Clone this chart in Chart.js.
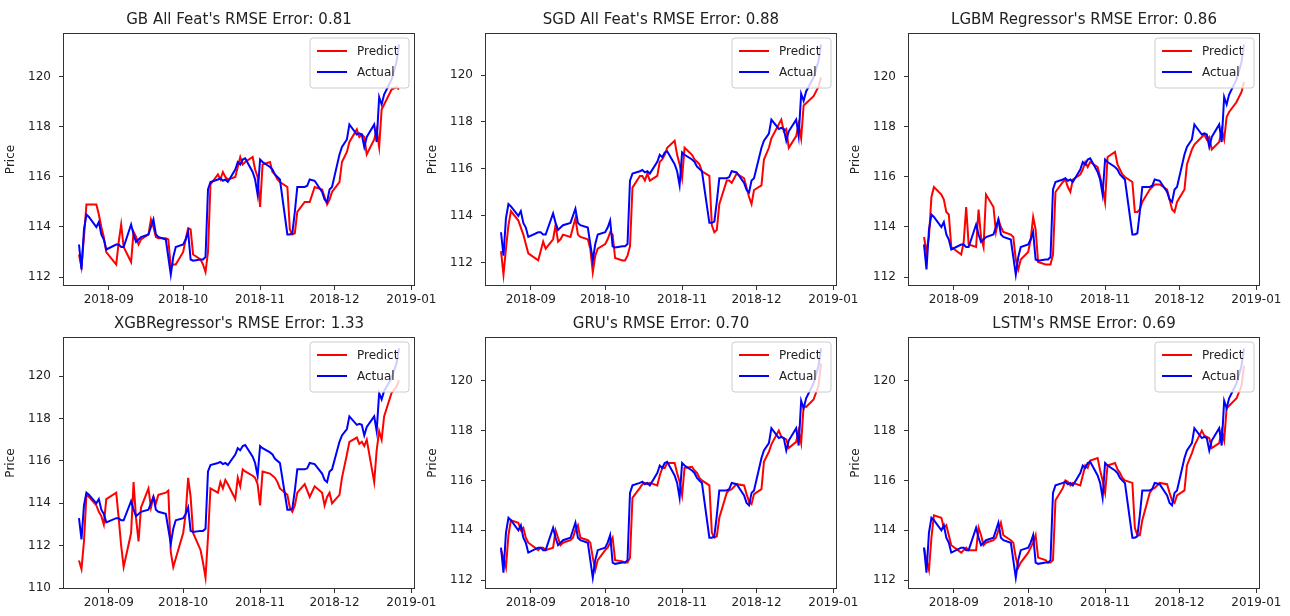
<!DOCTYPE html>
<html>
<head>
<meta charset="utf-8">
<script src="https://cdn.jsdelivr.net/npm/chart.js@4.4.1/dist/chart.umd.min.js"></script>
<style>
  html, body { margin: 0; padding: 0; background: #fff; width: 1290px; height: 616px; overflow: hidden; }
  canvas { position: absolute; }
</style>
</head>
<body>
<script>
// Trading days of the test window
const tradingDays = [
  '2018-08-20','2018-08-21','2018-08-22','2018-08-23','2018-08-24','2018-08-27','2018-08-28','2018-08-29','2018-08-30','2018-08-31',
  '2018-09-04','2018-09-05','2018-09-06','2018-09-07','2018-09-10','2018-09-11','2018-09-12','2018-09-13','2018-09-14','2018-09-17',
  '2018-09-18','2018-09-19','2018-09-20','2018-09-21','2018-09-24','2018-09-25','2018-09-26','2018-09-27','2018-09-28','2018-10-01',
  '2018-10-02','2018-10-03','2018-10-04','2018-10-05','2018-10-08','2018-10-09','2018-10-10','2018-10-11','2018-10-12','2018-10-15',
  '2018-10-16','2018-10-17','2018-10-18','2018-10-19','2018-10-22','2018-10-23','2018-10-24','2018-10-25','2018-10-26','2018-10-29',
  '2018-10-30','2018-10-31','2018-11-01','2018-11-02','2018-11-05','2018-11-06','2018-11-07','2018-11-08','2018-11-09','2018-11-12',
  '2018-11-13','2018-11-14','2018-11-15','2018-11-16','2018-11-19','2018-11-20','2018-11-21','2018-11-23','2018-11-26','2018-11-27',
  '2018-11-28','2018-11-29','2018-11-30','2018-12-03','2018-12-04','2018-12-06','2018-12-07','2018-12-10','2018-12-11','2018-12-12',
  '2018-12-13','2018-12-14','2018-12-17','2018-12-18','2018-12-19','2018-12-20','2018-12-21','2018-12-24','2018-12-26','2018-12-27'
];

// Observed closing price
const actualPrice = [
  113.3,112.3,113.9,114.5,114.4,114.0,114.2,113.7,113.5,113.1,
  113.3,113.3,113.2,113.2,114.1,113.7,113.4,113.5,113.6,113.7,
  114.0,114.3,113.7,113.6,113.5,112.8,112.1,112.8,113.2,113.3,
  113.5,113.8,112.7,112.65,112.7,112.7,112.8,115.5,115.8,115.9,
  115.95,115.85,115.9,115.8,116.3,116.6,116.5,116.7,116.75,116.2,
  115.9,115.3,116.7,116.6,116.4,116.3,116.1,116.0,115.9,113.7,
  113.7,113.75,114.6,115.6,115.6,115.65,115.9,115.85,115.4,115.1,
  115.0,115.5,115.6,116.9,117.2,117.5,118.1,117.7,117.75,117.7,
  117.2,117.6,118.1,117.4,119.2,118.9,119.3,119.9,120.6,121.3
];

// Model predictions
const predGB = [
  112.9,112.4,113.6,114.9,114.9,114.9,114.5,114.0,113.6,113.0,
  112.5,113.4,114.1,113.2,112.6,113.8,113.6,113.3,113.5,113.7,
  114.3,114.0,113.6,113.55,113.55,113.5,112.4,112.5,112.5,113.0,
  113.5,113.95,113.9,112.9,112.7,112.5,112.2,113.0,115.7,116.1,
  115.9,116.2,116.0,115.9,116.0,116.4,116.8,116.5,116.6,116.8,
  116.3,116.0,114.8,116.5,116.6,116.2,116.1,115.9,115.8,115.6,
  113.9,113.7,113.75,114.6,115.0,115.0,115.0,115.6,115.5,115.2,
  114.9,115.1,115.4,115.8,116.6,117.0,117.4,117.9,117.6,117.7,
  117.6,116.9,117.5,117.9,117.2,118.7,118.9,119.5,119.6,119.5
];
const predSGD = [
  112.5,111.5,112.6,113.6,114.2,113.8,113.5,113.2,112.8,112.4,
  112.1,112.5,112.9,112.6,113.0,113.6,112.9,113.0,113.2,113.1,
  113.5,113.9,113.2,113.1,113.0,112.6,111.6,112.3,112.6,112.8,
  113.0,113.3,113.2,112.2,112.1,112.1,112.3,112.7,115.2,115.7,
  115.7,115.5,115.8,115.5,115.7,116.3,116.4,116.6,116.9,117.2,
  116.6,116.2,115.6,116.9,116.6,116.4,116.3,116.2,115.9,115.7,
  113.6,113.3,113.4,114.5,115.5,115.5,115.4,115.8,115.6,115.2,
  114.8,114.5,115.1,115.3,116.4,116.9,117.3,117.9,118.1,117.6,
  117.7,116.9,117.4,117.9,117.3,118.7,118.8,119.1,119.5,119.9
];
const predLGBM = [
  113.6,113.0,113.6,115.2,115.6,115.3,115.1,114.6,114.5,113.2,
  112.9,113.4,114.8,113.3,113.2,114.7,113.6,113.2,115.3,114.8,
  113.8,114.3,114.0,113.8,113.7,113.6,112.7,112.3,112.7,113.0,
  113.5,114.4,113.9,112.6,112.5,112.5,112.5,112.9,115.4,115.8,
  115.9,115.6,115.4,115.9,116.1,116.3,116.6,116.4,116.6,116.4,
  116.0,115.6,115.0,116.8,117.0,116.5,116.3,116.1,116.0,115.8,
  114.6,114.6,114.7,115.0,115.5,115.6,115.7,115.7,115.5,115.1,
  114.7,114.6,115.0,115.5,116.5,117.1,117.3,117.6,117.7,117.5,
  117.6,117.1,117.4,117.9,117.5,118.4,118.6,119.0,119.4,119.8
];
const predXGB = [
  111.3,110.9,112.2,114.4,114.3,113.9,113.6,113.4,113.0,114.2,
  114.5,113.3,112.0,111.0,112.6,115.0,113.3,112.2,113.8,114.7,
  113.8,114.3,114.0,114.4,114.5,114.6,111.7,111.0,111.4,112.6,
  113.5,115.2,114.3,112.6,111.8,111.2,110.5,112.4,114.7,114.5,
  115.0,114.7,115.1,114.9,114.2,115.2,114.8,115.6,115.5,115.3,
  115.2,114.9,113.9,115.5,115.4,115.3,115.2,115.0,114.7,114.4,
  113.8,113.6,113.9,114.5,114.9,114.6,114.3,114.8,114.5,113.9,
  114.3,114.5,114.0,114.4,115.2,116.3,116.9,117.1,116.8,116.9,
  116.7,117.0,115.0,116.5,117.4,117.0,118.1,119.2,119.5,119.8
];
const predGRU = [
  113.2,112.9,112.5,113.8,114.4,114.3,114.0,114.1,113.7,113.5,
  113.2,113.3,113.3,113.2,113.3,114.0,113.7,113.4,113.5,113.6,
  113.7,114.0,114.2,113.7,113.6,113.5,112.9,112.4,112.8,113.2,
  113.3,113.5,113.7,112.8,112.75,112.7,112.7,112.9,115.3,115.7,
  115.85,115.9,115.85,115.9,115.8,116.2,116.5,116.5,116.7,116.7,
  116.3,115.95,115.4,116.5,116.55,116.4,116.3,116.1,116.0,115.8,
  113.9,113.7,113.75,114.5,115.5,115.6,115.65,115.85,115.8,115.45,
  115.15,115.05,115.45,115.65,116.75,117.15,117.45,118.0,117.75,117.7,
  117.65,117.3,117.55,118.0,117.5,119.0,118.95,119.25,119.8,120.7
];
const predLSTM = [
  113.3,112.8,112.4,113.7,114.6,114.5,114.1,114.2,113.8,113.4,
  113.1,113.2,113.3,113.2,113.2,114.1,113.8,113.4,113.5,113.6,
  113.7,114.0,114.3,113.8,113.6,113.5,112.9,112.5,112.7,113.1,
  113.3,113.5,113.8,112.9,112.8,112.7,112.7,112.8,115.2,115.7,
  116.0,115.95,115.8,115.9,115.8,116.2,116.6,116.5,116.8,116.9,
  116.4,116.0,115.5,116.6,116.7,116.45,116.3,116.1,116.0,115.9,
  114.1,113.8,113.8,114.4,115.5,115.65,115.7,115.9,115.85,115.5,
  115.2,115.1,115.4,115.6,116.6,117.1,117.4,118.0,117.8,117.75,
  117.7,117.3,117.5,118.0,117.6,118.9,119.0,119.3,119.8,120.6
];

const panelTitles = [
  "GB All Feat's RMSE Error: 0.81",
  "SGD All Feat's RMSE Error: 0.88",
  "LGBM Regressor's RMSE Error: 0.86",
  "XGBRegressor's RMSE Error: 1.33",
  "GRU's RMSE Error: 0.70",
  "LSTM's RMSE Error: 0.69"
];
const seriesNames = ['Predict', 'Actual'];
const monthTicks = ['2018-09', '2018-10', '2018-11', '2018-12', '2019-01'];
const priceTicks = [112, 114, 116, 118, 120];
const priceTicksWide = [110, 112, 114, 116, 118, 120];
const yAxisTitle = 'Price';

const FONT = "'DejaVu Sans', 'Liberation Sans', sans-serif";
const TEXT = '#222';
const PRED_COLOR = '#ff0000';
const ACT_COLOR = '#0000ff';
const LINE_W = 2;
Chart.defaults.font.family = FONT;

// day number from an ISO date string
const dayNum = s => Date.UTC(+s.slice(0, 4), +s.slice(5, 7) - 1, +(s.slice(8, 10) || 1)) / 86400000;
// 5% margin on each side, as an autoscaled axis would give
function padRange(vals) {
  const lo = Math.min(...vals), hi = Math.max(...vals), m = (hi - lo) * 0.05;
  return [lo - m, hi + m];
}

const AX_W = 352, Y_AXIS_W = 63, TOP_PAD = 33, X_AXIS_H = 28, RIGHT_PAD = 25;

// panel grid: [prediction, y ticks, axes left, axes top, axes height]
const panels = [
  [predGB,   priceTicks,     63,  33, 253],
  [predSGD,  priceTicks,     485, 33, 253],
  [predLGBM, priceTicks,     908, 33, 253],
  [predXGB,  priceTicksWide, 63,  337, 252],
  [predGRU,  priceTicks,     485, 337, 252],
  [predLSTM, priceTicks,     908, 337, 252]
];

// Frame, in-axes legend and title
const decorations = {
  id: 'decorations',
  afterDatasetsDraw(chart) {
    const { ctx, chartArea: ca } = chart;
    const title = chart.options.plugins.decorations.title;
    ctx.save();
    // legend box
    const bx = ca.right - 105, by = ca.top + 5, bw = 99, bh = 50, r = 3;
    ctx.beginPath();
    ctx.moveTo(bx + r, by);
    ctx.arcTo(bx + bw, by, bx + bw, by + bh, r);
    ctx.arcTo(bx + bw, by + bh, bx, by + bh, r);
    ctx.arcTo(bx, by + bh, bx, by, r);
    ctx.arcTo(bx, by, bx + bw, by, r);
    ctx.closePath();
    ctx.fillStyle = 'rgba(255,255,255,0.8)';
    ctx.fill();
    ctx.strokeStyle = '#cccccc';
    ctx.lineWidth = 1;
    ctx.stroke();
    const rows = [[seriesNames[0], PRED_COLOR, ca.top + 18], [seriesNames[1], ACT_COLOR, ca.top + 39]];
    ctx.font = '12px ' + FONT;
    ctx.textBaseline = 'middle';
    ctx.textAlign = 'left';
    for (const [label, color, y] of rows) {
      ctx.strokeStyle = color;
      ctx.lineWidth = LINE_W;
      ctx.beginPath();
      ctx.moveTo(bx + 7, y);
      ctx.lineTo(bx + 37, y);
      ctx.stroke();
      ctx.fillStyle = TEXT;
      ctx.fillText(label, bx + 47, y + 1);
    }
    // axes frame
    ctx.strokeStyle = '#333';
    ctx.lineWidth = 1;
    ctx.strokeRect(ca.left + 0.5, ca.top + 0.5, ca.width - 1, ca.height - 1);
    // title
    ctx.fillStyle = TEXT;
    ctx.font = '15px ' + FONT;
    ctx.textAlign = 'center';
    ctx.fillText(title, (ca.left + ca.right) / 2, ca.top - 13);
    ctx.restore();
  }
};

const xDays = tradingDays.map(dayNum);
const monthVals = monthTicks.map(m => dayNum(m + '-01'));
const xRange = padRange(xDays);

panels.forEach(([pred, yTicks, axLeft, axTop, axH], k) => {
  const W = Y_AXIS_W + AX_W + RIGHT_PAD, H = TOP_PAD + axH + X_AXIS_H;
  const canvas = document.createElement('canvas');
  canvas.width = W;
  canvas.height = H;
  canvas.style.left = (axLeft - Y_AXIS_W) + 'px';
  canvas.style.top = (axTop - TOP_PAD) + 'px';
  canvas.style.width = W + 'px';
  canvas.style.height = H + 'px';
  document.body.appendChild(canvas);

  const yRange = padRange(actualPrice.concat(pred));
  const tickFont = { family: FONT, size: 12 };

  new Chart(canvas, {
    type: 'line',
    data: {
      datasets: [
        { label: seriesNames[1], data: xDays.map((x, i) => ({ x, y: actualPrice[i] })), borderColor: ACT_COLOR, order: 0 },
        { label: seriesNames[0], data: xDays.map((x, i) => ({ x, y: pred[i] })), borderColor: PRED_COLOR, order: 1 }
      ]
    },
    options: {
      responsive: false,
      animation: false,
      events: [],
      layout: { padding: { left: 0, right: RIGHT_PAD, top: TOP_PAD, bottom: 0 } },
      elements: { point: { radius: 0 }, line: { borderWidth: LINE_W, tension: 0, fill: false } },
      plugins: {
        legend: { display: false },
        tooltip: { enabled: false },
        decorations: { title: panelTitles[k] }
      },
      scales: {
        x: {
          type: 'linear',
          min: xRange[0],
          max: xRange[1],
          afterBuildTicks: s => { s.ticks = monthVals.map(v => ({ value: v })); },
          afterFit: s => { s.height = X_AXIS_H; s.paddingLeft = 0; s.paddingRight = 0; },
          border: { display: false },
          grid: { display: true, drawOnChartArea: false, drawTicks: true, tickLength: 4, color: '#333' },
          ticks: {
            autoSkip: false, maxRotation: 0, padding: 3, color: TEXT, font: tickFont,
            callback: (v, i) => monthTicks[i]
          }
        },
        y: {
          type: 'linear',
          min: yRange[0],
          max: yRange[1],
          afterBuildTicks: s => { s.ticks = yTicks.map(v => ({ value: v })); },
          afterFit: s => { s.width = Y_AXIS_W; s.paddingTop = 0; s.paddingBottom = 0; },
          border: { display: false },
          grid: { display: true, drawOnChartArea: false, drawTicks: true, tickLength: 4, color: '#333' },
          ticks: { padding: 8, color: TEXT, font: tickFont, callback: v => String(v) },
          title: { display: true, text: yAxisTitle, color: TEXT, font: { family: FONT, size: 12 }, padding: { top: 4, bottom: 4 } }
        }
      }
    },
    plugins: [decorations]
  });
});
</script>
</body>
</html>
